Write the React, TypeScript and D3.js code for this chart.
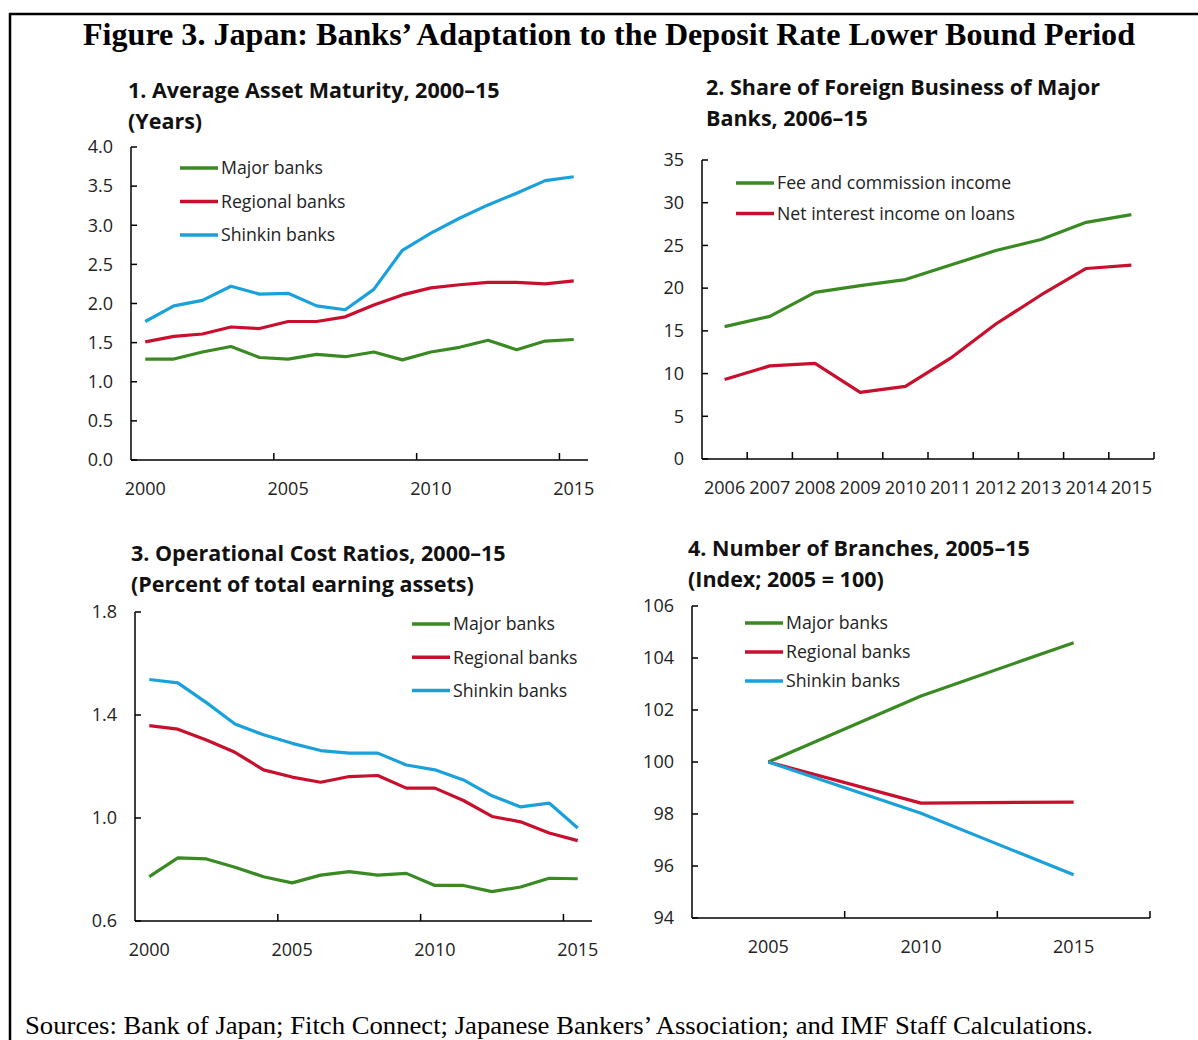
import React from "react";
import * as d3 from "d3";

const GREEN = "#3a8a23";
const RED = "#c8102e";
const BLUE = "#1aa1db";
const SANS = "'Segoe UI', 'Open Sans', sans-serif";
const SERIF = "'Liberation Serif', 'Times New Roman', serif";

// panel 1: average asset maturity (years)
const matYears = ["2000", "2001", "2002", "2003", "2004", "2005", "2006", "2007", "2008", "2009", "2010", "2011", "2012", "2013", "2014", "2015"];
const matMajor = [1.29, 1.29, 1.38, 1.45, 1.31, 1.29, 1.35, 1.32, 1.38, 1.28, 1.38, 1.44, 1.53, 1.41, 1.52, 1.54];
const matRegional = [1.51, 1.58, 1.61, 1.7, 1.68, 1.77, 1.77, 1.83, 1.98, 2.11, 2.2, 2.24, 2.27, 2.27, 2.25, 2.29];
const matShinkin = [1.77, 1.97, 2.04, 2.22, 2.12, 2.13, 1.97, 1.92, 2.18, 2.68, 2.9, 3.09, 3.26, 3.41, 3.57, 3.62];
const matTicks = [0, 0.5, 1, 1.5, 2, 2.5, 3, 3.5, 4];

// panel 2: share of foreign business
const forYears = ["2006", "2007", "2008", "2009", "2010", "2011", "2012", "2013", "2014", "2015"];
const forFee = [15.5, 16.7, 19.5, 20.3, 21.0, 22.7, 24.4, 25.7, 27.7, 28.6];
const forInterest = [9.3, 10.9, 11.2, 7.8, 8.5, 11.8, 15.8, 19.2, 22.3, 22.7];
const forTicks = [0, 5, 10, 15, 20, 25, 30, 35];

// panel 3: operational cost ratios
const costYears = matYears;
const costMajor = [0.772, 0.845, 0.841, 0.809, 0.772, 0.748, 0.778, 0.792, 0.778, 0.785, 0.738, 0.738, 0.714, 0.732, 0.766, 0.764];
const costRegional = [1.359, 1.345, 1.303, 1.255, 1.187, 1.159, 1.139, 1.161, 1.165, 1.116, 1.116, 1.068, 1.006, 0.985, 0.942, 0.912];
const costShinkin = [1.538, 1.525, 1.448, 1.365, 1.323, 1.29, 1.262, 1.252, 1.252, 1.206, 1.187, 1.148, 1.086, 1.043, 1.058, 0.961];
const costTicks = [0.6, 1.0, 1.4, 1.8];

// panel 4: number of branches index
const brYears = ["2005", "2010", "2015"];
const brMajor = [100, 102.54, 104.59];
const brRegional = [100, 98.42, 98.46];
const brShinkin = [100, 98.03, 95.66];
const brTicks = [94, 96, 98, 100, 102, 104, 106];

type Series = { name: string; color: string; values: number[] };

type PanelProps = {
  cats: string[];
  series: Series[];
  yDomain: [number, number];
  yTicks: number[];
  yFmt: (v: number) => string;
  left: number;
  right: number;
  top: number;
  bottom: number;
  tickIdx: number[];
  labelCats: string[];
  legendX: number;
  legendY: number;
  legendGap: number;
  title: string[];
  titleX: number;
  titleY: number;
};

function Panel(p: PanelProps) {
  const x = d3.scaleBand<string>().domain(p.cats).range([p.left, p.right]);
  const y = d3.scaleLinear().domain(p.yDomain).range([p.bottom, p.top]);
  const cx = (c: string) => (x(c) as number) + x.bandwidth() / 2;
  const line = d3
    .line<number>()
    .x((_, i) => cx(p.cats[i]))
    .y((d) => y(d));

  return (
    <g fontFamily={SANS}>
      {p.title.map((t, i) => (
        <text key={i} x={p.titleX} y={p.titleY + i * 31} fontSize={21.5} fontWeight="bold" fill="#111">
          {t}
        </text>
      ))}

      {p.series.map((s) => (
        <path key={s.name} d={line(s.values) || ""} fill="none" stroke={s.color} strokeWidth={3.2} strokeLinejoin="round" />
      ))}

      {/* axes */}
      <line x1={p.left} x2={p.left} y1={p.top} y2={p.bottom} stroke="#000" strokeWidth={1.5} />
      <line x1={p.left} x2={p.right} y1={p.bottom} y2={p.bottom} stroke="#000" strokeWidth={1.5} />

      {p.yTicks.map((t) => (
        <g key={t}>
          <line x1={p.left} x2={p.left + 6} y1={y(t)} y2={y(t)} stroke="#000" strokeWidth={1.5} />
          <text x={p.left - 18} y={y(t)} dy="0.35em" textAnchor="end" fontSize={18} fill="#222">
            {p.yFmt(t)}
          </text>
        </g>
      ))}

      {p.tickIdx.map((i) => {
        const xx = i >= p.cats.length ? p.right : (x(p.cats[i]) as number);
        return <line key={i} x1={xx} x2={xx} y1={p.bottom} y2={p.bottom - 7} stroke="#000" strokeWidth={1.5} />;
      })}

      {p.labelCats.map((c) => (
        <text key={c} x={cx(c)} y={p.bottom + 35} textAnchor="middle" fontSize={18} fill="#222">
          {c}
        </text>
      ))}

      {p.series.map((s, i) => (
        <g key={s.name} transform={`translate(${p.legendX},${p.legendY + i * p.legendGap})`}>
          <line x1={0} x2={38} y1={0} y2={0} stroke={s.color} strokeWidth={3.5} />
          <text x={41} y={0} dy="0.35em" fontSize={17.7} fill="#222">
            {s.name}
          </text>
        </g>
      ))}
    </g>
  );
}

export default function App() {
  const f1 = (v: number) => d3.format(".1f")(v);
  const f0 = (v: number) => d3.format("d")(v);
  return (
    <svg width={1198} height={1040} style={{ position: "absolute", left: 0, top: 0, background: "#fff" }}>
      <rect width={1198} height={1040} fill="#fff" />
      <line x1={9} x2={1198} y1={14} y2={14} stroke="#000" strokeWidth={2.5} />
      <line x1={10} x2={10} y1={13} y2={1040} stroke="#000" strokeWidth={2.5} />

      <text x={609} y={45} textAnchor="middle" fontFamily={SERIF} fontWeight="bold" fontSize={32} textLength={1052} lengthAdjust="spacingAndGlyphs">
        Figure 3. Japan: Banks’ Adaptation to the Deposit Rate Lower Bound Period
      </text>

      <Panel
        cats={matYears}
        series={[
          { name: "Major banks", color: GREEN, values: matMajor },
          { name: "Regional banks", color: RED, values: matRegional },
          { name: "Shinkin banks", color: BLUE, values: matShinkin },
        ]}
        yDomain={[0, 4]}
        yTicks={matTicks}
        yFmt={f1}
        left={131}
        right={588}
        top={147}
        bottom={460}
        tickIdx={[5, 10, 15]}
        labelCats={["2000", "2005", "2010", "2015"]}
        legendX={180}
        legendY={168}
        legendGap={33.5}
        title={["1. Average Asset Maturity, 2000–15", "(Years)"]}
        titleX={128}
        titleY={98}
      />

      <Panel
        cats={forYears}
        series={[
          { name: "Fee and commission income", color: GREEN, values: forFee },
          { name: "Net interest income on loans", color: RED, values: forInterest },
        ]}
        yDomain={[0, 35]}
        yTicks={forTicks}
        yFmt={f0}
        left={702}
        right={1154}
        top={160}
        bottom={459}
        tickIdx={[1, 2, 3, 4, 5, 6, 7, 8, 9, 10]}
        labelCats={forYears}
        legendX={736}
        legendY={183}
        legendGap={30.5}
        title={["2. Share of Foreign Business of Major", "Banks, 2006–15"]}
        titleX={706}
        titleY={95}
      />

      <Panel
        cats={costYears}
        series={[
          { name: "Major banks", color: GREEN, values: costMajor },
          { name: "Regional banks", color: RED, values: costRegional },
          { name: "Shinkin banks", color: BLUE, values: costShinkin },
        ]}
        yDomain={[0.6, 1.8]}
        yTicks={costTicks}
        yFmt={f1}
        left={135}
        right={592}
        top={612}
        bottom={921}
        tickIdx={[5, 10, 15]}
        labelCats={["2000", "2005", "2010", "2015"]}
        legendX={412}
        legendY={624}
        legendGap={33.3}
        title={["3. Operational Cost Ratios, 2000–15", "(Percent of total earning assets)"]}
        titleX={131}
        titleY={561}
      />

      <Panel
        cats={brYears}
        series={[
          { name: "Major banks", color: GREEN, values: brMajor },
          { name: "Regional banks", color: RED, values: brRegional },
          { name: "Shinkin banks", color: BLUE, values: brShinkin },
        ]}
        yDomain={[94, 106]}
        yTicks={brTicks}
        yFmt={f0}
        left={692}
        right={1150}
        top={606}
        bottom={918}
        tickIdx={[1, 2, 3]}
        labelCats={brYears}
        legendX={745}
        legendY={623}
        legendGap={29}
        title={["4. Number of Branches, 2005–15", "(Index; 2005 = 100)"]}
        titleX={688}
        titleY={556}
      />

      <text x={25} y={1034} fontFamily={SERIF} fontSize={25} textLength={1068} lengthAdjust="spacingAndGlyphs">
        Sources: Bank of Japan; Fitch Connect; Japanese Bankers’ Association; and IMF Staff Calculations.
      </text>
    </svg>
  );
}
